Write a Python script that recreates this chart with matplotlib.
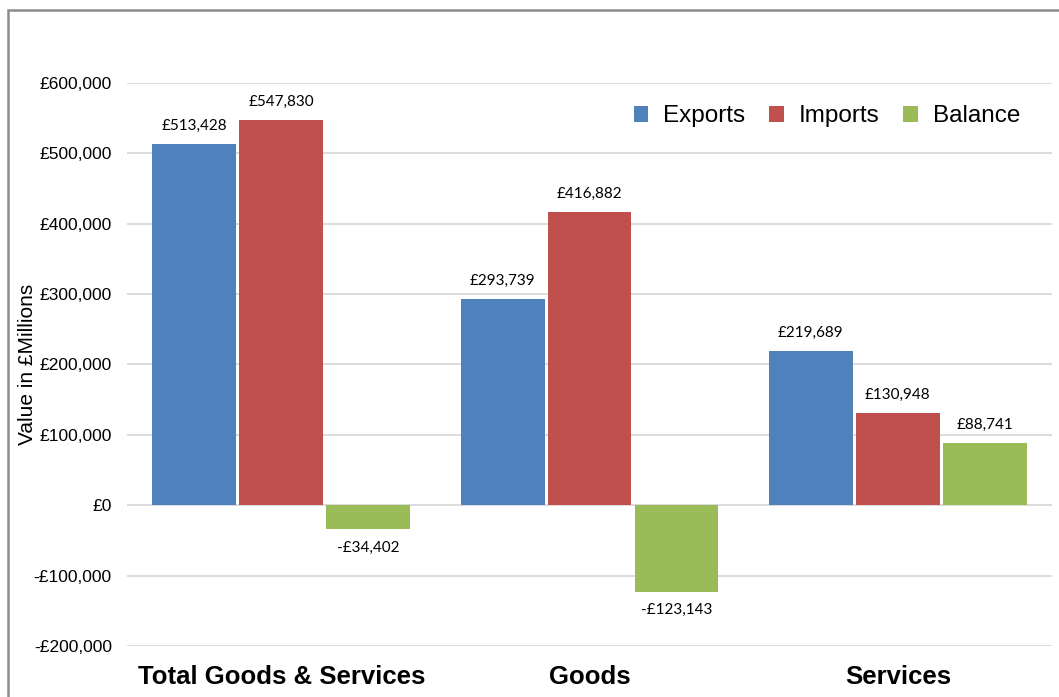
import matplotlib
matplotlib.use("Agg")
import matplotlib.pyplot as plt
from matplotlib.patches import Rectangle
from matplotlib.ticker import FuncFormatter

categories = ["Total Goods & Services", "Goods", "Services"]
exports = [513428, 293739, 219689]
imports = [547830, 416882, 130948]
balance = [-34402, -123143, 88741]
series_names = ["Exports", "Imports", "Balance"]
colors = ["#4F81BD", "#C0504D", "#9BBB59"]


def money(v, pos=None):
    v = int(round(v))
    if v < 0:
        return "-£{:,}".format(-v)
    return "£{:,}".format(v)


fig = plt.figure(figsize=(10.59, 6.97), dpi=100)
ax = fig.add_axes([0.12, 0.0732, 0.8734, 0.8077])

step = 0.282
width = 0.272
for j, (name, vals, col) in enumerate(zip(series_names, [exports, imports, balance], colors)):
    xs = [i + (j - 1) * step for i in range(len(categories))]
    bars = ax.bar(xs, vals, width, color=col, label=name, zorder=3)
    for b, v in zip(bars, vals):
        cx = b.get_x() + b.get_width() / 2
        if v >= 0:
            ax.annotate(money(v), (cx, v), xytext=(0, 8), textcoords="offset points",
                        ha="center", va="bottom", fontsize=11, family="Lato")
        else:
            ax.annotate(money(v), (cx, v), xytext=(0, -8), textcoords="offset points",
                        ha="center", va="top", fontsize=11, family="Lato")

ax.set_xlim(-0.5, 2.5)
ax.set_ylim(-200000, 600000)
ax.set_yticks(range(-200000, 600001, 100000))
ax.yaxis.set_major_formatter(FuncFormatter(money))
ax.set_xticks(range(len(categories)))
ax.set_xticklabels(categories, fontsize=18.5, fontweight="bold", family="Liberation Sans")
for t in ax.get_yticklabels():
    t.set_family("Liberation Sans")
    t.set_fontsize(12.5)
ax.tick_params(axis="both", length=0)
ax.tick_params(axis="y", pad=11)
ax.tick_params(axis="x", pad=14)
ax.grid(axis="y", color="#D9D9D9", linewidth=1.3, zorder=0)
for s in ax.spines.values():
    s.set_visible(False)

ax.set_ylabel("Value in £Millions", fontsize=15, family="Liberation Sans")
ax.yaxis.set_label_coords(-0.097, 0.5)

ax.legend(loc="upper right", bbox_to_anchor=(0.989, 0.999), ncol=3, frameon=False,
          prop={"family": "Liberation Sans", "size": 17.5},
          handlelength=0.6, handleheight=0.6, handletextpad=0.6, columnspacing=1.0)

# outer chart frame
fig.add_artist(Rectangle((8 / 1059, -0.1), 1.2, 1.1 - 10 / 697, transform=fig.transFigure,
                         fill=False, edgecolor="#8C8C8C", linewidth=1.8, clip_on=False))

plt.savefig("out.png", dpi=100)
